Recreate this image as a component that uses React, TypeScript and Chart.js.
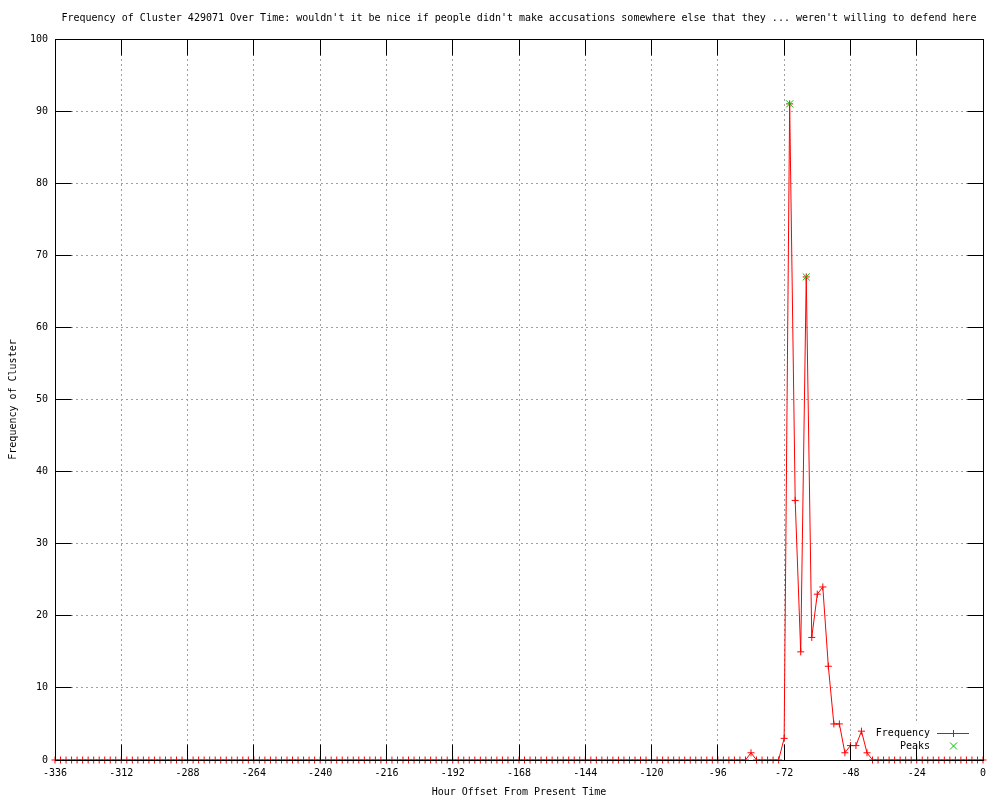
import { useEffect, useRef } from 'react';
import { Chart, registerables } from 'chart.js';

Chart.register(...registerables);

const chartTitle =
  "Frequency of Cluster 429071 Over Time: wouldn't it be nice if people didn't make accusations somewhere else that they ... weren't willing to defend here";
const xAxisTitle = 'Hour Offset From Present Time';
const yAxisTitle = 'Frequency of Cluster';

const hours = [
  -336, -334, -332, -330, -328, -326, -324, -322, -320, -318, -316, -314,
  -312, -310, -308, -306, -304, -302, -300, -298, -296, -294, -292, -290,
  -288, -286, -284, -282, -280, -278, -276, -274, -272, -270, -268, -266,
  -264, -262, -260, -258, -256, -254, -252, -250, -248, -246, -244, -242,
  -240, -238, -236, -234, -232, -230, -228, -226, -224, -222, -220, -218,
  -216, -214, -212, -210, -208, -206, -204, -202, -200, -198, -196, -194,
  -192, -190, -188, -186, -184, -182, -180, -178, -176, -174, -172, -170,
  -168, -166, -164, -162, -160, -158, -156, -154, -152, -150, -148, -146,
  -144, -142, -140, -138, -136, -134, -132, -130, -128, -126, -124, -122,
  -120, -118, -116, -114, -112, -110, -108, -106, -104, -102, -100, -98,
  -96, -94, -92, -90, -88, -86, -84, -82, -80, -78, -76, -74,
  -72, -70, -68, -66, -64, -62, -60, -58, -56, -54, -52, -50,
  -48, -46, -44, -42, -40, -38, -36, -34, -32, -30, -28, -26,
  -24, -22, -20, -18, -16, -14, -12, -10, -8, -6, -4, -2,
  0,
];

const frequency = [
  0, 0, 0, 0, 0, 0, 0, 0, 0, 0, 0, 0,
  0, 0, 0, 0, 0, 0, 0, 0, 0, 0, 0, 0,
  0, 0, 0, 0, 0, 0, 0, 0, 0, 0, 0, 0,
  0, 0, 0, 0, 0, 0, 0, 0, 0, 0, 0, 0,
  0, 0, 0, 0, 0, 0, 0, 0, 0, 0, 0, 0,
  0, 0, 0, 0, 0, 0, 0, 0, 0, 0, 0, 0,
  0, 0, 0, 0, 0, 0, 0, 0, 0, 0, 0, 0,
  0, 0, 0, 0, 0, 0, 0, 0, 0, 0, 0, 0,
  0, 0, 0, 0, 0, 0, 0, 0, 0, 0, 0, 0,
  0, 0, 0, 0, 0, 0, 0, 0, 0, 0, 0, 0,
  0, 0, 0, 0, 0, 0, 1, 0, 0, 0, 0, 0,
  3, 91, 36, 15, 67, 17, 23, 24, 13, 5, 5, 1,
  2, 2, 4, 1, 0, 0, 0, 0, 0, 0, 0, 0,
  0, 0, 0, 0, 0, 0, 0, 0, 0, 0, 0, 0,
  0,
];

const peakHours = [-70, -64];
const peakValues = [91, 67];

const xTickValues = [-336, -312, -288, -264, -240, -216, -192, -168, -144, -120, -96, -72, -48, -24, 0];
const yTickValues = [0, 10, 20, 30, 40, 50, 60, 70, 80, 90, 100];

const FONT = '"DejaVu Sans Mono", "Liberation Mono", monospace';
const TICK_LEN = 16;

const align = (p: number) => Math.round(p - 0.5) + 0.5;

const framePlugin = {
  id: 'gnuFrame',
  afterDraw(chart: any) {
    const { ctx, chartArea } = chart;
    const { left, right, top, bottom } = chartArea;
    const xs = chart.scales.x;
    const ys = chart.scales.y;
    const L = align(left);
    const R = align(right);
    const T = align(top);
    const B = align(bottom);
    ctx.save();

    // key background (opaque key area)
    ctx.fillStyle = '#ffffff';
    ctx.fillRect(right - 111, bottom - 36, 106, 23);

    ctx.strokeStyle = '#000000';
    ctx.lineWidth = 1;
    ctx.setLineDash([]);
    // inward tics
    ctx.beginPath();
    for (const v of xTickValues) {
      const px = align(xs.getPixelForValue(v));
      ctx.moveTo(px, B);
      ctx.lineTo(px, B - TICK_LEN);
      ctx.moveTo(px, T);
      ctx.lineTo(px, T + TICK_LEN);
    }
    for (const v of yTickValues) {
      const py = align(ys.getPixelForValue(v));
      ctx.moveTo(L, py);
      ctx.lineTo(L + TICK_LEN, py);
      ctx.moveTo(R, py);
      ctx.lineTo(R - TICK_LEN, py);
    }
    ctx.stroke();

    // border
    ctx.strokeRect(L, T, R - L, B - T);

    // key
    ctx.font = `10px ${FONT}`;
    ctx.fillStyle = '#000000';
    ctx.textAlign = 'right';
    ctx.textBaseline = 'middle';
    const textX = right - 53;
    const row1 = Math.round(bottom - 27);
    const row2 = Math.round(bottom - 14);
    ctx.fillText('Frequency', textX, row1);
    ctx.fillText('Peaks', textX, row2);

    // frequency sample (red line with + marker)
    const mx = Math.round(right - 30);
    ctx.fillStyle = '#ff0000';
    ctx.fillRect(Math.round(right - 46), row1, 32, 1);
    ctx.fillRect(mx, row1 - 3, 1, 7);

    // peaks sample (green x)
    ctx.strokeStyle = '#00c000';
    ctx.beginPath();
    const px2 = mx + 0.5;
    ctx.moveTo(px2 - 3.5, row2 - 3.5);
    ctx.lineTo(px2 + 3.5, row2 + 3.5);
    ctx.moveTo(px2 + 3.5, row2 - 3.5);
    ctx.lineTo(px2 - 3.5, row2 + 3.5);
    ctx.stroke();

    ctx.restore();
  },
};

export default function App() {
  const canvasRef = useRef<HTMLCanvasElement | null>(null);

  useEffect(() => {
    document.body.style.margin = '0';
    const canvas = canvasRef.current;
    if (!canvas) return;

    const freqData = hours.map((h, i) => ({ x: h, y: frequency[i] }));
    const peakData = peakHours.map((h, i) => ({ x: h, y: peakValues[i] }));

    const chart = new Chart(canvas, {
      type: 'line',
      data: {
        datasets: [
          {
            label: 'Peaks',
            data: peakData,
            showLine: false,
            pointStyle: 'crossRot',
            pointRadius: 5,
            pointBorderColor: '#00c000',
            pointBackgroundColor: '#00c000',
            pointBorderWidth: 1,
            borderColor: '#00c000',
            order: 0,
            clip: false as any,
          },
          {
            label: 'Frequency',
            data: freqData,
            borderColor: '#ff0000',
            borderWidth: 1,
            pointStyle: 'cross',
            pointRadius: 3.5,
            pointBorderColor: '#ff0000',
            pointBorderWidth: 1,
            tension: 0,
            fill: false,
            order: 1,
            clip: false as any,
          },
        ],
      },
      options: {
        responsive: false,
        animation: false,
        devicePixelRatio: 1,
        layout: { padding: { top: 0, right: 17, left: 0, bottom: 0 } },
        plugins: {
          legend: { display: false },
          tooltip: { enabled: false },
          title: {
            display: true,
            text: chartTitle,
            fullSize: false,
            color: '#000000',
            font: { family: FONT, size: 10, weight: 'normal' },
            padding: { top: 12, bottom: 15 },
          },
        },
        scales: {
          x: {
            type: 'linear',
            min: -336,
            max: 0,
            afterBuildTicks: (scale: any) => {
              scale.ticks = xTickValues.map((v) => ({ value: v }));
            },
            afterFit: (scale: any) => {
              scale.height = 40;
            },
            ticks: {
              autoSkip: false,
              maxRotation: 0,
              color: '#000000',
              padding: 7,
              font: { family: FONT, size: 10 },
              callback: (v: any) => String(v),
            },
            grid: {
              drawTicks: false,
              color: '#a0a0a0',
              lineWidth: 1,
            },
            border: { display: true, color: '#000000', dash: [2, 3] },
            title: {
              display: true,
              text: xAxisTitle,
              color: '#000000',
              font: { family: FONT, size: 10 },
              padding: { top: 0, bottom: 2 },
            },
          },
          y: {
            type: 'linear',
            min: 0,
            max: 100,
            afterBuildTicks: (scale: any) => {
              scale.ticks = yTickValues.map((v) => ({ value: v }));
            },
            afterFit: (scale: any) => {
              scale.width = 55;
            },
            ticks: {
              color: '#000000',
              padding: 7,
              font: { family: FONT, size: 10 },
              callback: (v: any) => String(v),
            },
            grid: {
              drawTicks: false,
              color: '#a0a0a0',
              lineWidth: 1,
            },
            border: { display: true, color: '#000000', dash: [2, 3] },
            title: {
              display: true,
              text: yAxisTitle,
              color: '#000000',
              font: { family: FONT, size: 10 },
              padding: { top: 7, bottom: 0 },
            },
          },
        },
      },
      plugins: [framePlugin],
    });

    return () => {
      chart.destroy();
    };
  }, []);

  return (
    <div style={{ width: 1000, height: 800, background: '#ffffff' }}>
      <canvas ref={canvasRef} width={1000} height={800} style={{ display: 'block' }} />
    </div>
  );
}
